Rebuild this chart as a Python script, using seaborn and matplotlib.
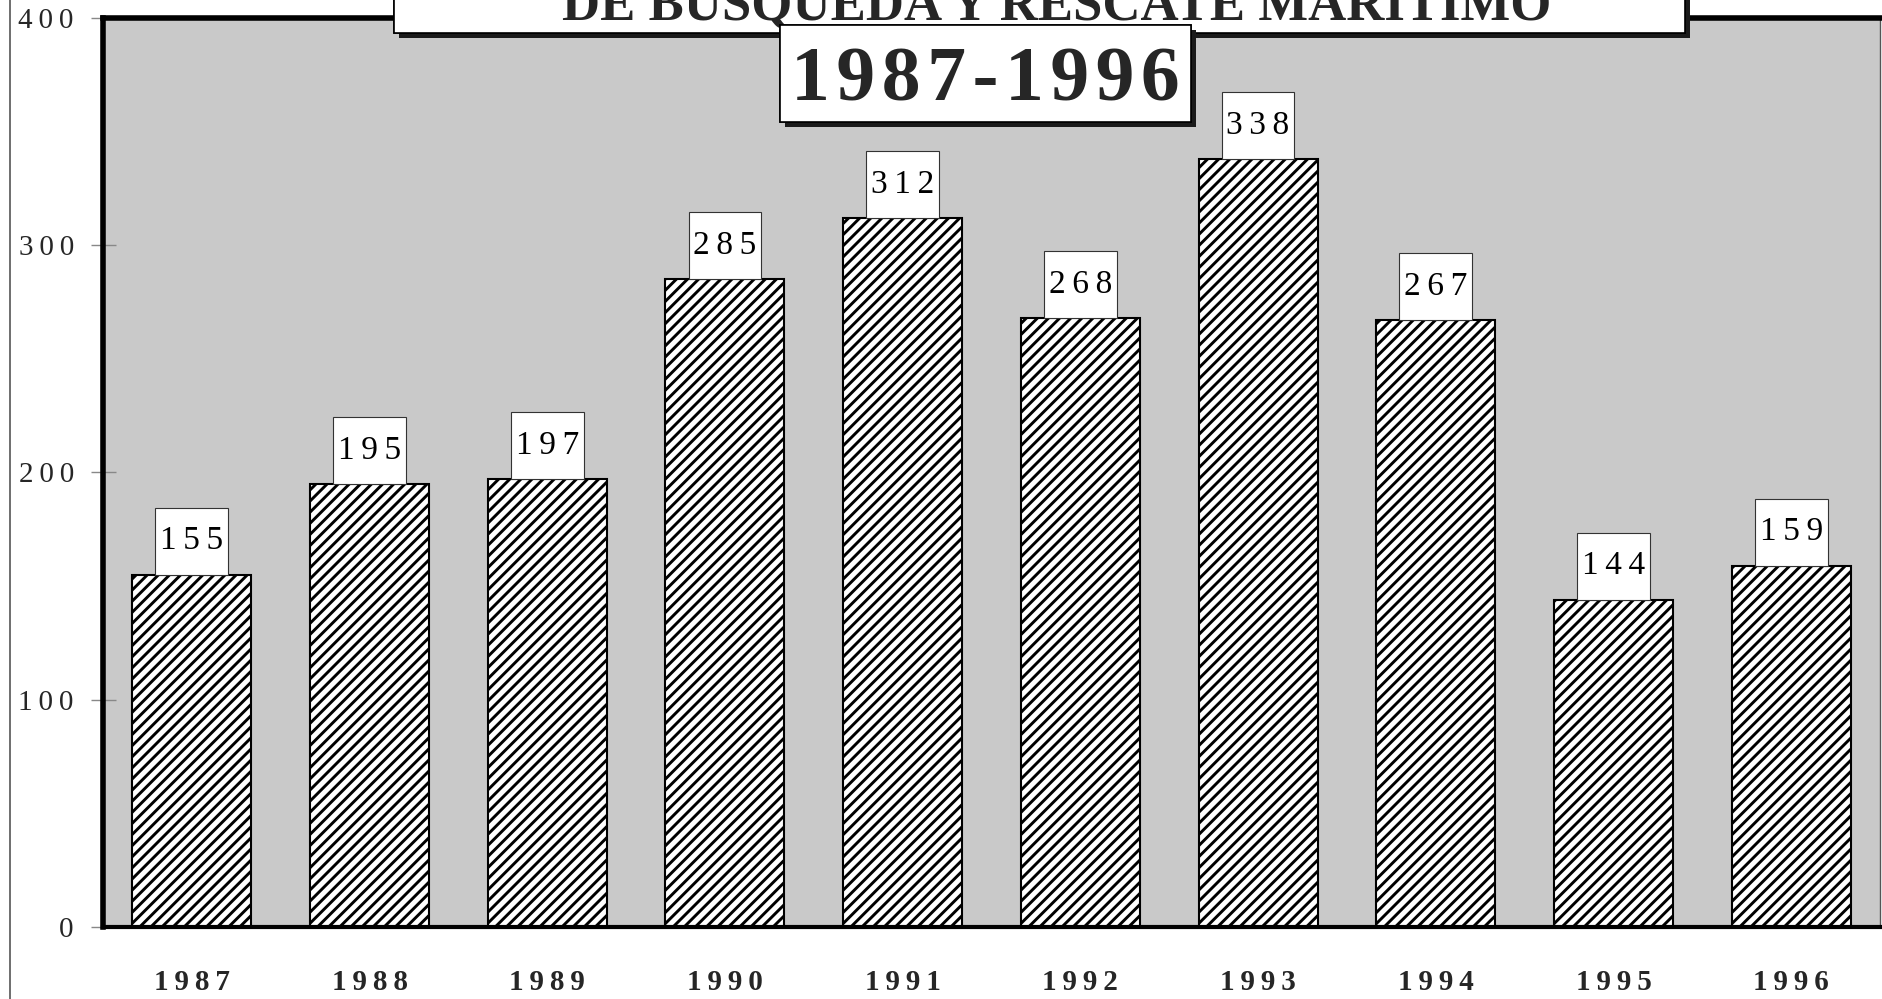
""" Script for plotting maritime search and rescue cases per year. """

import matplotlib

matplotlib.use("Agg")

import matplotlib.patheffects as pe
import matplotlib.pyplot as plt
import pandas as pd
import seaborn as sns
from matplotlib.lines import Line2D
from matplotlib.patches import Rectangle

years = ["1987", "1988", "1989", "1990", "1991", "1992", "1993", "1994", "1995", "1996"]
cases = [155, 195, 197, 285, 312, 268, 338, 267, 144, 159]
y_ticks = [0, 100, 200, 300, 400]

title_line = "DE BUSQUEDA Y RESCATE MARITIMO"
subtitle = "1987-1996"

SERIF = ["Liberation Serif", "DejaVu Serif"]
PLOT_BG = "#c9c9c9"
THIN = "\u2009"
HAIR = "\u200a"

sns.set_style("white")
plt.rcParams["font.family"] = SERIF
plt.rcParams["hatch.linewidth"] = 2.1
plt.rcParams["hatch.color"] = "black"

df = pd.DataFrame({"year": years, "cases": cases})

fig = plt.figure(figsize=(18.83, 9.99), dpi=100)
ax = fig.add_axes([0.0547, 0.0721, 0.9437, 0.910])
ax.set_facecolor(PLOT_BG)

sns.barplot(
    data=df, x="year", y="cases", color="white", edgecolor="black",
    linewidth=1.5, width=0.67, saturation=1, ax=ax,
)
for patch in ax.patches:
    patch.set_hatch("///")
    patch.set_facecolor("white")

# value labels in white boxes sitting on top of each bar
box_w, box_h = 0.41, 29.5
for i, value in enumerate(cases):
    ax.add_patch(Rectangle((i - box_w / 2, value), box_w, box_h, fc="white",
                           ec="#333333", lw=0.8, zorder=4))
    ax.text(i, value + box_h / 2, THIN.join(str(value)), ha="center", va="center",
            fontsize=24, color="black", zorder=5)

ax.set_xlim(-0.5, len(years) - 0.5)
ax.set_ylim(0, 400)
ax.set_yticks(y_ticks)
ax.set_yticklabels([THIN.join(str(t)) for t in y_ticks], fontsize=21)
ax.set_xticks(range(len(years)))
ax.set_xticklabels([THIN.join(y) for y in years], fontsize=21, fontweight="bold")
ax.set_xticks([i + 0.5 for i in range(len(years))], minor=True)
ax.set_xlabel("")
ax.set_ylabel("")

ax.tick_params(axis="x", which="major", length=0, pad=30)
ax.tick_params(axis="x", which="minor", direction="inout", length=20, width=1,
               color="#444444")
ax.tick_params(axis="y", which="major", direction="inout", length=18, width=1,
               color="#888888", pad=12, left=True)

for side in ["left", "top"]:
    ax.spines[side].set_linewidth(4)
    ax.spines[side].set_color("black")
ax.spines["bottom"].set_linewidth(3)
ax.spines["bottom"].set_color("black")
ax.spines["right"].set_linewidth(1)
ax.spines["right"].set_color("#555555")

# thin scan border at the left of the page
fig.add_artist(Line2D([0.0055, 0.0055], [0, 1], transform=fig.transFigure,
                      color="#555555", lw=1.2))

shadow = [pe.withSimplePatchShadow(offset=(3.5, -3.5), shadow_rgbFace="#1a1a1a", alpha=1),
          pe.Normal()]

# title box, partly cut off at the top of the page
title_box = Rectangle((0.2095, 0.967), 0.6855, 0.1, transform=fig.transFigure,
                      fc="white", ec="black", lw=1.2, clip_on=False, zorder=10)
title_box.set_path_effects(shadow)
fig.add_artist(title_box)
fig.text(0.561, 0.981, title_line, ha="center", va="baseline", fontsize=38,
         fontweight="bold", zorder=11)

# years box
years_box = Rectangle((0.4142, 0.878), 0.2183, 0.097, transform=fig.transFigure,
                      fc="white", ec="black", lw=1.2, clip_on=False, zorder=12)
years_box.set_path_effects(shadow)
fig.add_artist(years_box)
fig.text(0.5235, 0.899, HAIR.join(subtitle), ha="center", va="baseline", fontsize=56,
         fontweight="bold", zorder=13)

plt.savefig("out.png", dpi=100, facecolor="white")
